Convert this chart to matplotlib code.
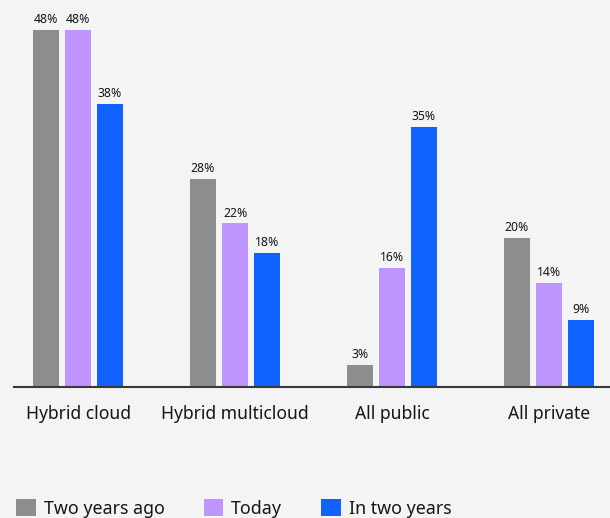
import numpy as np
import matplotlib
matplotlib.use('Agg')
import matplotlib.pyplot as plt

plt.rcParams['font.family'] = ['Noto Sans', 'DejaVu Sans']

categories = ['Hybrid cloud', 'Hybrid multicloud', 'All public', 'All private']
two_years_ago = [48, 28, 3, 20]
today = [48, 22, 16, 14]
in_two_years = [38, 18, 35, 9]
series_names = ['Two years ago', 'Today', 'In two years']

colors = ['#8d8d8d', '#be95ff', '#0f62fe']
bg = '#f4f4f4'
txt = '#161616'

fig = plt.figure(figsize=(6.1, 5.18), dpi=100, facecolor=bg)
ax = fig.add_axes([0.023, 0.2529, 0.977, 0.7471], facecolor=bg)

x = np.arange(len(categories))
width = 0.166
step = 0.204
handles = []
for i, (vals, name) in enumerate(zip([two_years_ago, today, in_two_years], series_names)):
    bars = ax.bar(x + (i - 1) * step, vals, width, color=colors[i], label=name)
    handles.append(bars)
    for b, v in zip(bars, vals):
        ax.text(b.get_x() + b.get_width() / 2, v + 0.5, f'{v}%', ha='center', va='bottom',
                fontsize=8.8, color=txt)

ax.set_xlim(-0.408, 3.389)
ax.set_ylim(0, 52)
ax.set_xticks(x)
ax.set_xticklabels(categories, fontsize=12.6, color=txt)
ax.tick_params(axis='x', length=0, pad=13)
ax.set_yticks([])
for s in ['top', 'right', 'left']:
    ax.spines[s].set_visible(False)
ax.spines['bottom'].set_color('#393939')
ax.spines['bottom'].set_linewidth(1.5)

fig.legend(handles=handles, labels=series_names, loc='lower left', bbox_to_anchor=(0.0, -0.03),
           ncol=3, frameon=False, fontsize=12.8, handlelength=1.1, handleheight=1.1,
           handletextpad=0.45, columnspacing=2.2, labelcolor=txt)

fig.savefig('out.png', dpi=100, facecolor=bg)
